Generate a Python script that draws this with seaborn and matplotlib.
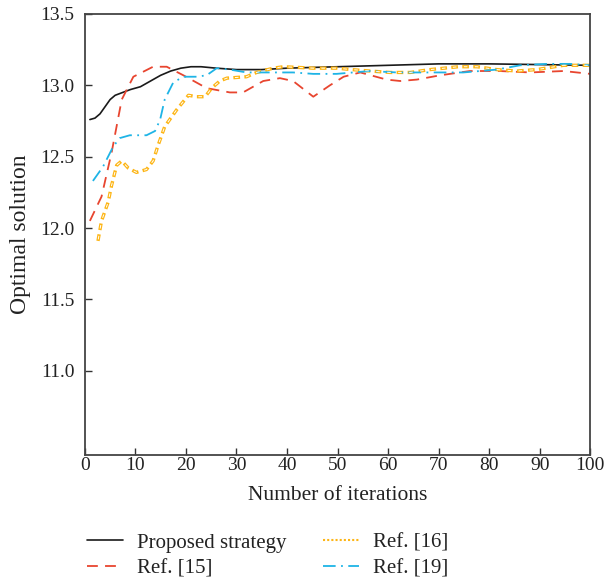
import numpy as np
import pandas as pd
import matplotlib
matplotlib.use("Agg")
import matplotlib.pyplot as plt
import seaborn as sns

# ---- data ----
x_prop = [1, 2, 3, 4, 5, 6, 7.5, 9, 11, 13, 15, 17, 19, 21, 23, 26, 30, 35, 40, 50, 60, 70, 80, 90, 100]
y_prop = [12.76, 12.77, 12.80, 12.85, 12.90, 12.93, 12.95, 12.97, 12.99, 13.03, 13.07, 13.10, 13.12, 13.13, 13.13,
          13.12, 13.11, 13.11, 13.12, 13.13, 13.14, 13.15, 13.15, 13.145, 13.14]

x_r15 = [1, 3.3, 5.3, 7.3, 9.6, 13.5, 16.2, 19.5, 24.1, 28.7, 31.3, 35.3, 38.6, 41.2, 45.2, 48.5, 51.2, 54.5,
         59.7, 62.4, 65.7, 70.3, 76.2, 82, 88.1, 94.7, 100]
y_r15 = [12.05, 12.22, 12.53, 12.90, 13.06, 13.13, 13.13, 13.07, 12.98, 12.95, 12.95, 13.03, 13.05, 13.03, 12.92, 13.0, 13.06, 13.09,
         13.04, 13.03, 13.04, 13.07, 13.10, 13.10, 13.09, 13.10, 13.08]

x_r16 = [2.6, 3.3, 4.6, 5.3, 6.3, 7.3, 8.6, 10.2, 12.2, 13.5, 14.5, 15.8, 18.2, 20.5, 22.1, 23.8, 25.1, 26.7, 28.1,
         32, 34, 37.3, 39.3, 45.2, 49.8, 52.8, 56.4, 60.4, 64.4, 68.3, 73.9, 77.6, 81.5, 85.5, 89.4, 94.7, 100]
y_r16 = [11.91, 12.05, 12.18, 12.30, 12.44, 12.47, 12.42, 12.39, 12.41, 12.47, 12.58, 12.71, 12.83, 12.93, 12.92, 12.92, 12.98, 13.03, 13.05,
         13.06, 13.09, 13.12, 13.13, 13.12, 13.12, 13.11, 13.10, 13.09, 13.09, 13.11, 13.13, 13.13, 13.11, 13.10, 13.11, 13.14, 13.14]

x_r19 = [1.6, 3.6, 5.6, 6.9, 8.9, 12.2, 13.9, 14.9, 15.8, 17.5, 19.5, 22.1, 24.1, 26.1, 28.7, 32, 36, 41.2, 45.2,
         49.8, 56.4, 61.7, 67, 74.9, 81.5, 86.1, 91.4, 96, 100]
y_r19 = [12.33, 12.43, 12.57, 12.63, 12.65, 12.65, 12.68, 12.76, 12.90, 13.02, 13.06, 13.06, 13.07, 13.12, 13.11, 13.09, 13.09, 13.09, 13.08,
         13.08, 13.10, 13.09, 13.09, 13.09, 13.11, 13.14, 13.15, 13.15, 13.14]

labels = ["Proposed strategy", "Ref. [15]", "Ref. [16]", "Ref. [19]"]
x_ticks = [0, 10, 20, 30, 40, 50, 60, 70, 80, 90, 100]
y_ticks = [11.0, 11.5, 12.0, 12.5, 13.0, 13.5]

frames = []
for lab, xs, ys in zip(labels, [x_prop, x_r15, x_r16, x_r19], [y_prop, y_r15, y_r16, y_r19]):
    frames.append(pd.DataFrame({"iter": xs, "val": ys, "series": lab}))
df = pd.concat(frames, ignore_index=True)

sns.set_theme(style="white")
plt.rcParams["font.family"] = ["Liberation Serif", "DejaVu Serif"]

fig = plt.figure(figsize=(6.06, 5.8), dpi=100)
ax = fig.add_axes([0.140, 0.2155, 0.834, 0.7605])

palette = {"Proposed strategy": "#1a1a1a", "Ref. [15]": "#E8452F",
           "Ref. [16]": "#FDB515", "Ref. [19]": "#1EB4E6"}
sns.lineplot(data=df, x="iter", y="val", hue="series", palette=palette,
             sort=False, ax=ax, legend=False, estimator=None)

styles = {
    "Proposed strategy": dict(ls="-", lw=1.2),
    "Ref. [15]": dict(ls=(0, (6, 4)), lw=1.3),
    "Ref. [16]": dict(ls=(0, (2.0, 1.3)), lw=2.4),
    "Ref. [19]": dict(ls=(0, (7, 3, 1, 3)), lw=1.3),
}
lines = list(ax.get_lines())
for line, lab in zip(lines, labels):
    line.set_linestyle(styles[lab]["ls"])
    line.set_linewidth(styles[lab]["lw"])
    line.set_label(lab)

# hollow look of the Ref. [16] dots: thin white core inside each orange dash
period = (2.0 + 1.3) * 2.4
core_lw = 0.7
core_on = 2.0 * 2.4 - 2.2
start = 1.1
ax.plot(x_r16, y_r16, color="white", lw=core_lw,
        ls=((period - start) / core_lw, (core_on / core_lw, (period - core_on) / core_lw)),
        zorder=lines[2].get_zorder() + 0.1)

ax.set_xlim(0, 100)
ax.set_ylim(10.41, 13.5)
ax.set_xticks(x_ticks)
ax.set_yticks(y_ticks)
ax.set_yticklabels([f"{v:.1f}" for v in y_ticks])
ax.tick_params(direction="in", length=5, width=1, colors="#333333",
               labelsize=14, left=True, bottom=True, top=False, right=False)
ax.tick_params(axis="x", pad=1.5)
ax.tick_params(axis="y", pad=7.5)
for lab in ax.get_xticklabels() + ax.get_yticklabels():
    lab.set_color("#222222")
for s in ax.spines.values():
    s.set_color("#444444")
    s.set_linewidth(1.3)

ax.set_xlabel("Number of iterations", fontsize=15.5, color="#222222", labelpad=8.5)
ax.set_ylabel("Optimal solution", fontsize=17, color="#222222")
ax.yaxis.set_label_coords(-0.106, 0.5)

handles = lines[:4]
leg = fig.legend(handles, labels, loc="upper left", bbox_to_anchor=(0.113, 0.1135),
                 ncol=2, frameon=False, fontsize=15, handlelength=1.73,
                 columnspacing=1.75, labelspacing=0.32, handletextpad=0.67)
for t in leg.get_texts():
    t.set_color("#222222")
leg.get_lines()[2].set_linewidth(1.5)
leg.get_lines()[2].set_linestyle((0, (1, 1)))

fig.savefig("out.png", dpi=100)
